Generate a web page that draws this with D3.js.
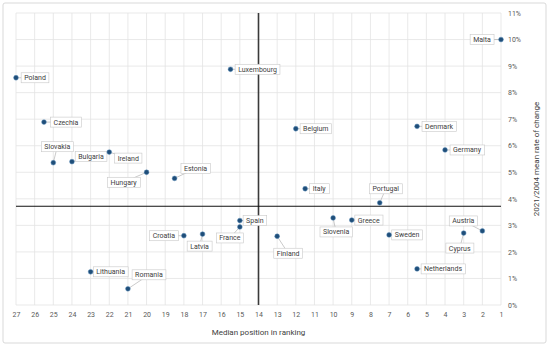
<!DOCTYPE html>
<html>
<head>
<meta charset="utf-8">
<script src="https://cdn.jsdelivr.net/npm/d3@7"></script>
<style>
  body { margin: 0; background: #fff; }
  text { font-family: Roboto, "Noto Sans", sans-serif; }
</style>
</head>
<body>
<div id="chart"></div>
<script>
// data
const countries = ["Malta","Poland","Luxembourg","Czechia","Slovakia","Bulgaria","Ireland","Hungary","Estonia",
  "Spain","France","Croatia","Latvia","Lithuania","Romania","Finland","Belgium","Denmark","Germany",
  "Italy","Portugal","Slovenia","Greece","Sweden","Netherlands","Cyprus","Austria"];
const medianRank = [1,27,15.5,25.5,25,24,22,20,18.5,15,15,18,17,23,21,13,12,5.5,4,11.5,7.5,10,9,7,5.5,3,2];
const meanRate = [10.0,8.56,8.88,6.89,5.36,5.40,5.76,5.0,4.77,3.18,2.94,2.61,2.67,1.25,0.61,2.59,6.64,6.73,5.84,
  4.38,3.85,3.28,3.20,2.64,1.36,2.71,2.79];
const xTicks = d3.range(27, 0, -1);
const yTicks = d3.range(0, 12);
const refRank = 14;
const refRate = 3.72;

// label placement (pixel offsets from the point)
const labelOffset = {
  Malta:[-19,0], Poland:[19,0], Luxembourg:[27,0], Czechia:[22,0], Slovakia:[4,-16], Bulgaria:[19,-5],
  Ireland:[19,6], Hungary:[-23,10], Estonia:[21,-10], Spain:[15,0], France:[-10,11], Croatia:[-20,0],
  Latvia:[-3,12], Lithuania:[20,0], Romania:[21,-14], Finland:[11,17], Belgium:[20,0], Denmark:[22,0],
  Germany:[22,0], Italy:[14,0], Portugal:[6,-14], Slovenia:[3,14], Greece:[17,0], Sweden:[18,0],
  Netherlands:[26,0], Cyprus:[-4,15], Austria:[-19,-10]
};

const width = 550, height = 347;
const margin = {top: 13, right: 49, bottom: 42, left: 16};

const svg = d3.select("#chart").append("svg")
  .attr("width", width)
  .attr("height", height);

// outer frame
svg.append("rect")
  .attr("x", 3).attr("y", 3)
  .attr("width", 543).attr("height", 340)
  .attr("rx", 2)
  .attr("fill", "#fff")
  .attr("stroke", "#d9d9d9")
  .attr("stroke-width", 1);

let x = d3.scaleLinear()
  .domain([27, 1])
  .range([margin.left, width - margin.right]);

let y = d3.scaleLinear()
  .domain([0, 11])
  .range([height - margin.bottom, margin.top]);

// grid
svg.append("g")
  .selectAll("line")
  .data(xTicks)
  .join("line")
  .attr("x1", d => x(d)).attr("x2", d => x(d))
  .attr("y1", y(0)).attr("y2", y(11))
  .attr("stroke", "#e3e3e3")
  .attr("stroke-width", 0.8);

svg.append("g")
  .selectAll("line")
  .data(yTicks)
  .join("line")
  .attr("x1", x(27)).attr("x2", x(1))
  .attr("y1", d => y(d)).attr("y2", d => y(d))
  .attr("stroke", "#e3e3e3")
  .attr("stroke-width", 0.8);

// axes
let xAxis = d3.axisBottom(x).tickValues(xTicks).tickSize(0).tickPadding(7).tickFormat(d3.format("d"));
svg.append("g")
  .attr("transform", `translate(0, ${y(0)})`)
  .call(xAxis)
  .call(g => g.select(".domain").remove())
  .selectAll("text")
  .style("font-size", "7px")
  .attr("fill", "#595959");

let yAxis = d3.axisRight(y).tickValues(yTicks).tickSize(0).tickPadding(7).tickFormat(d => d + "%");
svg.append("g")
  .attr("transform", `translate(${x(1)}, 0)`)
  .call(yAxis)
  .call(g => g.select(".domain").remove())
  .selectAll("text")
  .style("font-size", "7px")
  .attr("fill", "#595959");

// reference lines
svg.append("line")
  .attr("x1", x(refRank)).attr("x2", x(refRank))
  .attr("y1", y(0)).attr("y2", y(11))
  .attr("stroke", "#3a3a3a")
  .attr("stroke-width", 1.6);

svg.append("line")
  .attr("x1", x(27)).attr("x2", x(1))
  .attr("y1", y(refRate)).attr("y2", y(refRate))
  .attr("stroke", "#111")
  .attr("stroke-width", 1.2);

// axis titles
svg.append("text")
  .attr("x", (x(27) + x(1)) / 2)
  .attr("y", 335)
  .attr("text-anchor", "middle")
  .style("font-size", "8px")
  .attr("fill", "#404040")
  .text("Median position in ranking");

svg.append("text")
  .attr("transform", `translate(539, ${(y(0) + y(11)) / 2}) rotate(-90)`)
  .attr("text-anchor", "middle")
  .style("font-size", "8px")
  .attr("fill", "#404040")
  .text("2021/2004 mean rate of change");

const points = countries.map((c, i) => ({name: c, rank: medianRank[i], rate: meanRate[i]}));

// callout lines
svg.append("g")
  .selectAll("line")
  .data(points)
  .join("line")
  .attr("x1", d => x(d.rank))
  .attr("y1", d => y(d.rate))
  .attr("x2", d => x(d.rank) + labelOffset[d.name][0])
  .attr("y2", d => y(d.rate) + labelOffset[d.name][1])
  .attr("stroke", "#a6a6a6")
  .attr("stroke-width", 0.6);

// labels with boxes
let labels = svg.append("g")
  .selectAll("g")
  .data(points)
  .join("g")
  .attr("transform", d => `translate(${x(d.rank) + labelOffset[d.name][0]}, ${y(d.rate) + labelOffset[d.name][1]})`);

labels.append("text")
  .attr("text-anchor", "middle")
  .attr("dy", "0.35em")
  .style("font-size", "7px")
  .attr("fill", "#404040")
  .text(d => d.name);

labels.each(function() {
  let g = d3.select(this);
  let bb = g.select("text").node().getBBox();
  g.insert("rect", "text")
    .attr("x", bb.x - 3)
    .attr("y", -5)
    .attr("width", bb.width + 6)
    .attr("height", 10)
    .attr("fill", "#fff")
    .attr("stroke", "#c8c8c8")
    .attr("stroke-width", 0.6);
});

// points
svg.append("g")
  .selectAll("circle")
  .data(points)
  .join("circle")
  .attr("cx", d => x(d.rank))
  .attr("cy", d => y(d.rate))
  .attr("r", 2.4)
  .attr("fill", "#1f4e79")
  .attr("stroke", "#5b8db8")
  .attr("stroke-width", 0.5);
</script>
</body>
</html>
